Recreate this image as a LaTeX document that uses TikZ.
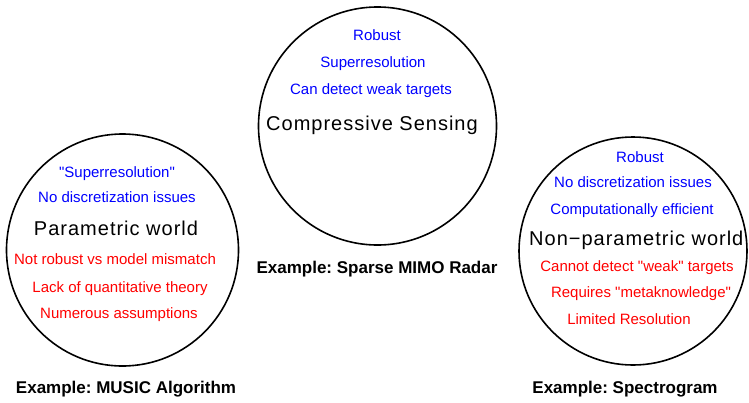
\documentclass[tikz,border=0pt]{standalone}
\usepackage{fontspec}
\setmainfont{Liberation Sans}
\newfontfamily\headfont[LetterSpace=5]{Liberation Sans}
\usetikzlibrary{shapes}
\frenchspacing

\begin{document}
\begin{tikzpicture}[x=1pt,y=-1pt,
  ring/.style={draw, circle, line width=1.6pt, inner sep=0pt},
  pro/.style={text=blue, font=\fontsize{15}{16}\selectfont, text height=10.7pt, text depth=0pt},
  con/.style={text=red, font=\fontsize{15}{16}\selectfont, text height=10.7pt, text depth=0pt},
  world/.style={font=\headfont\fontsize{20}{22}\selectfont, text height=14.3pt, text depth=0pt},
  example/.style={font=\bfseries\fontsize{17}{19}\selectfont, text height=12.2pt, text depth=0pt}]
\useasboundingbox (0,0) rectangle (749,402);
% circles, sizes in px of the 749x402 picture
\node [ring, minimum size=232] (param) at (122.5,250) {};
\node [ring, minimum size=238] (cs) at (377.5,126) {};
\node [ring, minimum size=228] (nonparam) at (633,251) {};

% compressive sensing
\node [pro] (cs1) at (377,35) {Robust};
\node [pro] (cs2) at (373,62) {Superresolution};
\node [pro] (cs3) at (371,89) {Can detect weak targets};
\node [world] (csname) at (372,123) {Compressive Sensing};
\node [example] (csex) at (377,267) {Example: Sparse MIMO Radar};

% parametric world
\node [pro] (param1) at (117,172) {\textquotedbl Superresolution\textquotedbl};
\node [pro] (param2) at (117,197) {No discretization issues};
\node [world] (paramname) at (116,228) {Parametric world};
\node [con] (param3) at (115,259) {Not robust vs model mismatch};
\node [con] (param4) at (120,287) {Lack of quantitative theory};
\node [con] (param5) at (119,313) {Numerous assumptions};
\node [example] (paramex) at (126,387) {Example: MUSIC Algorithm};

% non-parametric world
\node [pro] (nonparam1) at (640,157) {Robust};
\node [pro] (nonparam2) at (633,182) {No discretization issues};
\node [pro] (nonparam3) at (632,209) {Computationally efficient};
\node [world, anchor=west, inner xsep=0pt] (nonparamname) at (529,238) {Non\char"2212 parametric world};
\node [con] (nonparam4) at (637,266) {Cannot detect \textquotedbl weak\textquotedbl\ targets};
\node [con] (nonparam5) at (641,292) {Requires \textquotedbl metaknowledge\textquotedbl};
\node [con] (nonparam6) at (629,319) {Limited Resolution};
\node [example] (nonparamex) at (625,387) {Example: Spectrogram};
\end{tikzpicture}
\end{document}
